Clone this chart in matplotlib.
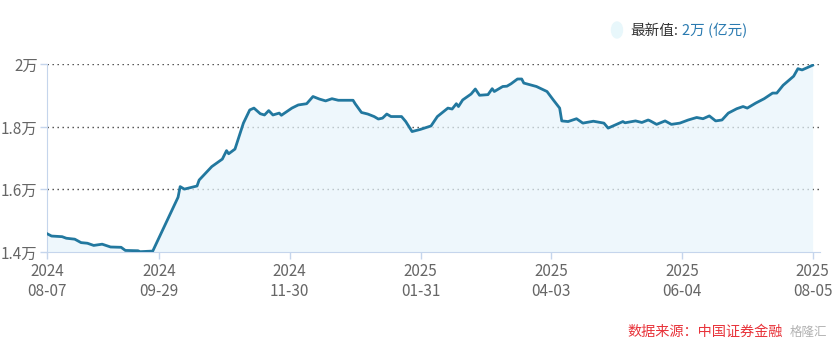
import pandas as pd
import matplotlib
matplotlib.use('Agg')
import matplotlib.pyplot as plt

plt.rcParams['font.family'] = ['Noto Sans CJK SC', 'DejaVu Sans']

# 融资融券余额 (万亿元)
dates = [
    '2024-08-07', '2024-08-09', '2024-08-14', '2024-08-16', '2024-08-20', '2024-08-23',
    '2024-08-26', '2024-08-29', '2024-09-02', '2024-09-06', '2024-09-11', '2024-09-13',
    '2024-09-19', '2024-09-20', '2024-09-26', '2024-10-08', '2024-10-09', '2024-10-11',
    '2024-10-17', '2024-10-18', '2024-10-24', '2024-10-29', '2024-10-31', '2024-11-01',
    '2024-11-04', '2024-11-08', '2024-11-11', '2024-11-13', '2024-11-16', '2024-11-18',
    '2024-11-20', '2024-11-22', '2024-11-25', '2024-11-26', '2024-12-01', '2024-12-04',
    '2024-12-08', '2024-12-11', '2024-12-14', '2024-12-17', '2024-12-20', '2024-12-23',
    '2024-12-30', '2024-12-31', '2025-01-03', '2025-01-06', '2025-01-09', '2025-01-11',
    '2025-01-13', '2025-01-15', '2025-01-17', '2025-01-22', '2025-01-24', '2025-01-27',
    '2025-01-31', '2025-02-05', '2025-02-08', '2025-02-13', '2025-02-15', '2025-02-17',
    '2025-02-18', '2025-02-20', '2025-02-24', '2025-02-26', '2025-02-28', '2025-03-04',
    '2025-03-06', '2025-03-07', '2025-03-11', '2025-03-13', '2025-03-15', '2025-03-18',
    '2025-03-20', '2025-03-21', '2025-03-27', '2025-04-01', '2025-04-04', '2025-04-07',
    '2025-04-08', '2025-04-11', '2025-04-15', '2025-04-18', '2025-04-23', '2025-04-28',
    '2025-04-30', '2025-05-07', '2025-05-08', '2025-05-13', '2025-05-16', '2025-05-19',
    '2025-05-20', '2025-05-23', '2025-05-27', '2025-05-30', '2025-06-03', '2025-06-07',
    '2025-06-11', '2025-06-14', '2025-06-17', '2025-06-20', '2025-06-23', '2025-06-26',
    '2025-06-30', '2025-07-03', '2025-07-05', '2025-07-09', '2025-07-13', '2025-07-17',
    '2025-07-19', '2025-07-22', '2025-07-27', '2025-07-29', '2025-07-31', '2025-08-02',
    '2025-08-05',
]
values = [
    1.458, 1.451, 1.449, 1.444, 1.441, 1.430,
    1.428, 1.421, 1.425, 1.416, 1.415, 1.405,
    1.404, 1.401, 1.403, 1.575, 1.609, 1.601,
    1.611, 1.630, 1.673, 1.697, 1.724, 1.714,
    1.729, 1.812, 1.854, 1.860, 1.842, 1.838,
    1.852, 1.838, 1.844, 1.837, 1.860, 1.870,
    1.874, 1.897, 1.889, 1.883, 1.890, 1.885,
    1.885, 1.874, 1.846, 1.841, 1.833, 1.825,
    1.828, 1.841, 1.833, 1.833, 1.817, 1.785,
    1.792, 1.803, 1.833, 1.860, 1.857, 1.874,
    1.865, 1.886, 1.905, 1.921, 1.901, 1.903,
    1.922, 1.913, 1.929, 1.930, 1.938, 1.953,
    1.953, 1.940, 1.929, 1.913, 1.886, 1.860,
    1.819, 1.817, 1.826, 1.812, 1.818, 1.812,
    1.796, 1.817, 1.813, 1.819, 1.814, 1.822,
    1.819, 1.808, 1.819, 1.808, 1.812, 1.822,
    1.830, 1.826, 1.835, 1.819, 1.822, 1.844,
    1.858, 1.865, 1.860, 1.876, 1.890, 1.908,
    1.908, 1.933, 1.962, 1.986, 1.982, 1.988,
    1.997,
]
tick_dates = ['2024-08-07', '2024-09-29', '2024-11-30', '2025-01-31',
              '2025-04-03', '2025-06-04', '2025-08-05']
y_ticks = [1.4, 1.6, 1.8, 2.0]
y_labels = ['1.4万', '1.6万', '1.8万', '2万']

x = pd.to_datetime(dates)
ticks = pd.to_datetime(tick_dates)

line_color = '#22789f'
axis_color = '#c5d5ec'
label_color = '#666666'

fig = plt.figure(figsize=(8.32, 3.5), dpi=100)
ax = fig.add_axes([0.0569, 0.28, 0.9287, 0.5363])

# gridlines sit under the see-through fill, so they fade inside the area
for v in y_ticks[1:]:
    ax.axhline(v, color='#444444', lw=1.0, ls=(0, (1, 2.6)), zorder=1)
ax.fill_between(x, values, 1.4, color='#e7f5fb', alpha=0.7, lw=0, zorder=2)
ax.plot(x, values, color=line_color, lw=2.0, zorder=3)

ax.set_ylim(1.4, 2.0)
ax.set_xlim(ticks[0], ticks[-1] + pd.Timedelta(days=3.5))

ax.set_yticks(y_ticks)
ax.set_yticklabels(y_labels)
ax.set_xticks(ticks)
ax.set_xticklabels([f'{d.year}\n{d.strftime("%m-%d")}' for d in ticks])

for s in ['top', 'right']:
    ax.spines[s].set_visible(False)
ax.spines['left'].set_color(axis_color)
ax.spines['bottom'].set_color(axis_color)
ax.tick_params(axis='both', colors=axis_color, labelcolor=label_color,
               labelsize=11, length=5, width=1)
ax.tick_params(axis='y', pad=2)
ax.tick_params(axis='x', pad=3)
for t in ax.get_xticklabels():
    t.set_linespacing(1.25)

# legend at the top right
fig.patches.append(matplotlib.patches.Ellipse((617 / 832, 1 - 30 / 350), 11 / 832, 16 / 350,
                                              transform=fig.transFigure,
                                              color='#e8f7fb', zorder=5))
fig.text(630 / 832, 1 - 31 / 350, '最新值:', color='#333333', fontsize=10.5,
         ha='left', va='center')
fig.text(682 / 832, 1 - 31 / 350, '2万 (亿元)', color='#2a7ab0', fontsize=10.5,
         ha='left', va='center')

fig.text(627 / 832, 1 - 332 / 350, '数据来源：中国证券金融', color='#e8333a',
         fontsize=10.2, ha='left', va='center')
# faint 格隆汇 watermark at the end of the source line
fig.text(827 / 832, 1 - 332 / 350, '格隆汇', color='#555555', alpha=0.45,
         fontsize=9, ha='right', va='center')

fig.savefig('out.png', dpi=100)
